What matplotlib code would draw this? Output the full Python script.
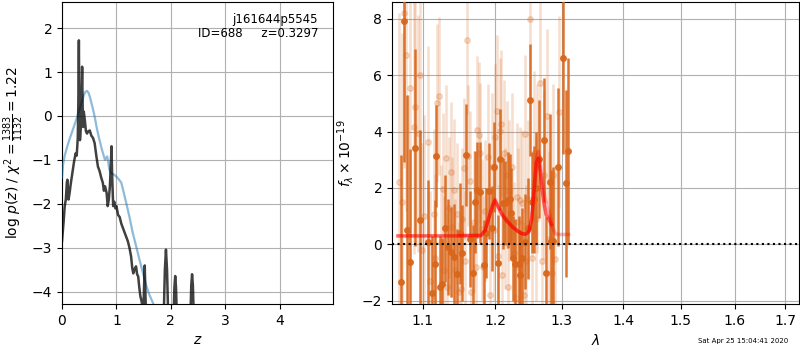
import matplotlib
matplotlib.use("Agg")
import matplotlib.pyplot as plt
from matplotlib.ticker import NullLocator, FixedLocator, FixedFormatter

# ---------------- p(z) panel data ----------------
z_pz = [0.0, 0.03, 0.05, 0.07, 0.09, 0.10, 0.12, 0.14, 0.16, 0.19, 0.22, 0.25, 0.27, 0.29,
        0.30, 0.31, 0.32, 0.33, 0.35, 0.36, 0.37, 0.38, 0.39, 0.40, 0.42, 0.44, 0.46, 0.48,
        0.51, 0.54, 0.57, 0.60, 0.63, 0.66, 0.69, 0.72, 0.75, 0.77, 0.79, 0.82, 0.84, 0.86,
        0.88, 0.90, 0.91, 0.92, 0.94, 0.96, 0.98, 1.00, 1.03, 1.06, 1.09, 1.12, 1.15, 1.18,
        1.21, 1.24, 1.27, 1.29, 1.31, 1.33, 1.36, 1.38, 1.40, 1.42, 1.44, 1.46, 1.48, 1.50,
        1.52, 1.54, 1.56, 1.70, 1.86, 1.89, 1.91, 1.93, 1.96, 2.04, 2.065, 2.08, 2.095, 2.12,
        2.35, 2.375, 2.39, 2.405, 2.43, 2.60, 4.95]
logp = [-2.85, -2.4, -2.05, -1.9, -1.5, -1.45, -1.9, -1.75, -1.55, -1.3, -1.05, -0.85, -0.9, -0.5,
        0.3, 1.72, 0.0, -0.55, -0.2, 0.5, 1.12, 0.2, -0.25, 0.1, -0.1, -0.35, -0.4, -0.35,
        -0.33, -0.45, -0.5, -0.62, -0.9, -1.15, -1.25, -1.4, -1.52, -1.7, -1.6, -1.75, -2.05, -1.9,
        -1.6, -1.0, -0.69, -1.3, -2.05, -1.95, -2.1, -2.05, -2.25, -2.3, -2.45, -2.55, -2.65, -2.75,
        -2.85, -3.0, -3.2, -3.45, -3.58, -3.5, -3.42, -3.6, -3.65, -3.9, -4.1, -4.2, -4.35, -4.2,
        -3.4, -4.4, -5.5, -7.0, -5.0, -3.5, -3.04, -3.5, -5.0, -5.0, -3.9, -3.64, -3.9, -5.0,
        -5.0, -3.85, -3.6, -3.85, -5.0, -8.0, -10.0]

z_prior = [0.0, 0.02, 0.05, 0.10, 0.14, 0.18, 0.23, 0.28, 0.32, 0.36, 0.40, 0.43, 0.46, 0.49,
           0.52, 0.55, 0.58, 0.61, 0.64, 0.68, 0.72, 0.76, 0.79, 0.81, 0.83, 0.85, 0.87, 0.90,
           0.95, 1.00, 1.05, 1.09, 1.13, 1.18, 1.24, 1.30, 1.37, 1.43, 1.49, 1.55, 1.61, 1.67,
           1.75, 2.00, 4.95]
logp_prior = [-1.4, -1.1, -0.9, -0.68, -0.52, -0.38, -0.2, -0.02, 0.15, 0.3, 0.47, 0.55, 0.57, 0.52,
              0.4, 0.25, 0.1, -0.08, -0.28, -0.5, -0.7, -0.88, -1.0, -0.95, -0.92, -1.05, -1.22, -1.3,
              -1.33, -1.38, -1.45, -1.52, -1.72, -1.98, -2.3, -2.66, -3.0, -3.3, -3.58, -3.87, -4.08, -4.25,
              -4.5, -5.0, -8.0]

# ---------------- spectrum panel data ----------------
wave_a = [1.0722, 1.0752, 1.0796, 1.0830, 1.0895, 1.0961, 1.1066, 1.1125, 1.1160, 1.1183,
          1.1227, 1.1260, 1.1305, 1.1340, 1.1387, 1.1418, 1.1465, 1.1501, 1.1540, 1.1594,
          1.1640, 1.1688, 1.1720, 1.1744, 1.1791, 1.1838, 1.1875, 1.1909, 1.1958, 1.1991,
          1.2039, 1.2067, 1.2117, 1.2150, 1.2184, 1.2213, 1.2233, 1.2263, 1.2297, 1.2345,
          1.2360, 1.2396, 1.2440, 1.2479, 1.2509, 1.2545, 1.2580, 1.2610, 1.2645, 1.2721,
          1.2762, 1.2813, 1.2839, 1.2865, 1.2937, 1.3015, 1.3062, 1.3100]
flux_a = [-1.33, 7.93, 0.51, -0.62, 3.43, 0.86, 0.07, -1.72, -0.71, 3.13,
          -1.50, -1.39, 0.57, -0.10, -0.28, -0.46, -1.05, 0.39, -0.30, 3.17,
          0.20, -1.03, 1.51, 1.93, 1.84, -0.73, 0.40, 1.89, 0.57, 2.75,
          -0.67, 3.01, 1.45, 1.46, 1.57, 1.60, 1.10, -0.50, -0.71, -0.71,
          -1.09, -0.50, 0.10, 0.57, 5.12, 1.49, 1.60, 2.00, 3.02, 3.69,
          -1.03, 2.22, 0.13, 0.13, 2.73, 6.60, 2.16, 3.32]
err_a = [4.5, 5.0, 4.8, 4.0, 3.5, 3.2, 2.2, 2.0, 2.3, 1.8,
         1.8, 1.6, 1.9, 1.7, 1.6, 1.9, 1.6, 1.8, 1.7, 1.8,
         1.7, 1.7, 1.8, 1.7, 1.8, 1.6, 1.6, 1.7, 1.5, 1.6,
         1.7, 1.8, 1.6, 1.5, 1.7, 1.6, 1.6, 1.5, 1.6, 1.7,
         1.6, 1.8, 1.7, 1.8, 2.0, 1.8, 1.9, 2.0, 2.1, 2.2,
         2.0, 2.4, 2.5, 2.6, 2.8, 3.4, 3.3, 3.3]

wave_b = [1.0688, 1.0735, 1.0761, 1.0787, 1.0810, 1.0839, 1.0882, 1.0904, 1.0934, 1.0970,
          1.0990, 1.1020, 1.1075, 1.1100, 1.1147, 1.1170, 1.1193, 1.1214, 1.1240, 1.1270,
          1.1290, 1.1319, 1.1330, 1.1350, 1.1383, 1.1400, 1.1425, 1.1440, 1.1470, 1.1490,
          1.1521, 1.1540, 1.1557, 1.1580, 1.1600, 1.1624, 1.1648, 1.1665, 1.1700, 1.1730,
          1.1748, 1.1767, 1.1780, 1.1811, 1.1830, 1.1860, 1.1896, 1.1930, 1.1950, 1.1985,
          1.2002, 1.2031, 1.2050, 1.2072, 1.2088, 1.2100, 1.2126, 1.2140, 1.2175, 1.2190,
          1.2205, 1.2248, 1.2270, 1.2300, 1.2322, 1.2340, 1.2370, 1.2400, 1.2420, 1.2444,
          1.2460, 1.2485, 1.2519, 1.2540, 1.2569, 1.2600, 1.2621, 1.2661, 1.2690, 1.2730,
          1.2773, 1.2800, 1.2845, 1.2870, 1.2901, 1.2953]
flux_b = [2.22, 1.51, 8.20, 6.70, 0.30, 5.55, 4.15, 4.87, 3.94, 6.00,
          -0.20, 1.00, 3.63, -1.30, 1.08, -0.50, 5.00, 5.27, 0.10, 1.95,
          -0.90, 3.06, -1.50, 1.30, 2.55, 0.60, 1.94, -0.90, 1.08, -1.70,
          -1.60, 0.90, 2.70, -0.60, 7.23, 3.15, 2.23, -1.70, 0.80, -0.80,
          4.07, 3.87, 3.23, 0.54, -0.80, 1.20, 3.10, -1.80, 2.75, 0.50,
          3.79, 4.73, -0.40, 4.02, 4.28, -1.10, 3.23, 0.90, 2.47, -1.50,
          1.90, 2.75, -0.30, -1.90, 1.69, 0.80, 1.57, 1.45, -1.80, 3.90,
          -0.60, 1.60, 8.00, -0.50, 3.25, 0.90, 2.70, 5.72, -0.60, 2.47,
          4.55, 0.20, -1.02, 2.47, -0.52, 4.70]
err_b = [6.0, 6.0, 5.5, 5.5, 5.0, 5.0, 4.5, 4.5, 4.2, 4.0,
         3.8, 3.6, 3.4, 3.2, 3.0, 3.0, 2.8, 2.8, 2.7, 2.7,
         2.6, 2.6, 2.6, 2.5, 2.5, 2.5, 2.5, 2.5, 2.5, 2.5,
         2.5, 2.5, 2.5, 2.5, 2.6, 2.5, 2.5, 2.5, 2.5, 2.5,
         2.6, 2.6, 2.5, 2.5, 2.5, 2.5, 2.6, 2.5, 2.6, 2.5,
         2.6, 2.7, 2.5, 2.6, 2.6, 2.5, 2.6, 2.5, 2.6, 2.5,
         2.5, 2.6, 2.5, 2.5, 2.6, 2.6, 2.6, 2.6, 2.6, 2.8,
         2.7, 2.8, 3.0, 2.8, 2.9, 2.9, 3.0, 3.0, 3.0, 3.0,
         3.1, 3.1, 3.2, 3.2, 3.3, 3.4]

model_wave1 = [1.068, 1.100, 1.150, 1.180, 1.186, 1.192, 1.197, 1.200, 1.204, 1.210, 1.218,
               1.226, 1.234, 1.240, 1.245, 1.250, 1.254, 1.258, 1.261, 1.264, 1.267, 1.270,
               1.273, 1.276, 1.280, 1.284]
model_flux1 = [0.30, 0.30, 0.30, 0.31, 0.50, 1.00, 1.40, 1.55, 1.35, 1.05, 0.80,
               0.60, 0.45, 0.37, 0.36, 0.45, 0.90, 2.00, 2.90, 3.05, 2.60, 1.90,
               1.40, 1.05, 0.90, 0.70]
model_wave2 = [1.150, 1.180, 1.186, 1.192, 1.197, 1.200, 1.204, 1.210, 1.218, 1.226, 1.234,
               1.240, 1.245, 1.250, 1.254, 1.258, 1.261, 1.264, 1.267, 1.270, 1.274, 1.278,
               1.282, 1.286, 1.290, 1.295, 1.311]
model_flux2 = [0.32, 0.33, 0.52, 1.05, 1.45, 1.60, 1.40, 1.10, 0.85, 0.62, 0.47,
               0.38, 0.37, 0.48, 0.95, 2.10, 3.05, 3.30, 2.95, 2.30, 1.70, 1.30,
               1.00, 0.60, 0.38, 0.35, 0.35]

xticks = [1.1, 1.2, 1.3, 1.4, 1.5, 1.6, 1.7]

fig = plt.figure(figsize=(8, 3.5), dpi=100)
ax1 = fig.add_axes([0.0775, 0.131, 0.3388, 0.863])
ax2 = fig.add_axes([0.49, 0.131, 0.509, 0.863])

# Left panel
ax1.plot(z_prior, logp_prior, color='tab:blue', alpha=0.5, lw=1.6, zorder=3)
ax1.plot(z_pz, logp, color='k', alpha=0.75, lw=1.8, zorder=4)
ax1.set_xlim(0, 4.98)
ax1.set_ylim(-4.28, 2.59)
ax1.set_xticks([0, 1, 2, 3, 4])
ax1.set_yticks([-4, -3, -2, -1, 0, 1, 2])
ax1.grid(True)
ax1.set_xlabel('$z$')
ax1.set_ylabel(r'log $p(z)$ / $\chi^2=\frac{1383}{1132}=1.22$')
ax1.text(0.945, 0.965, 'j161644p5545\nID=688     z=0.3297', ha='right', va='top',
         transform=ax1.transAxes, fontsize=8.5, linespacing=1.1)

# Right panel
col = '#d9661a'
ax2.errorbar(wave_b, flux_b, yerr=err_b, color=col, alpha=0.22, marker='o', ms=4,
             linestyle='None', elinewidth=1.8, capsize=0, zorder=2)
ax2.errorbar(wave_a, flux_a, yerr=err_a, color=col, alpha=0.9, marker='o', ms=4,
             linestyle='None', elinewidth=1.8, capsize=0, zorder=3)
ax2.plot(model_wave2, model_flux2, color='r', alpha=0.3, lw=2.5, zorder=4)
ax2.plot(model_wave1, model_flux1, color='r', alpha=0.6, lw=2.5, zorder=5)
ax2.axhline(0, color='k', linestyle=':', lw=1.5, zorder=6)
ax2.set_xscale('log')
ax2.set_xlim(1.0604, 1.729)
ax2.xaxis.set_major_locator(FixedLocator(xticks))
ax2.xaxis.set_major_formatter(FixedFormatter(['%.1f' % t for t in xticks]))
ax2.xaxis.set_minor_locator(NullLocator())
ax2.set_ylim(-2.12, 8.59)
ax2.set_yticks([-2, 0, 2, 4, 6, 8])
ax2.grid(True)
ax2.set_xlabel(r'$\lambda$')
ax2.set_ylabel(r'$f_\lambda\times10^{-19}$')

fig.text(0.985, 0.027, 'Sat Apr 25 15:04:41 2020', ha='right', va='center', fontsize=5)

fig.savefig('out.png', dpi=100)
